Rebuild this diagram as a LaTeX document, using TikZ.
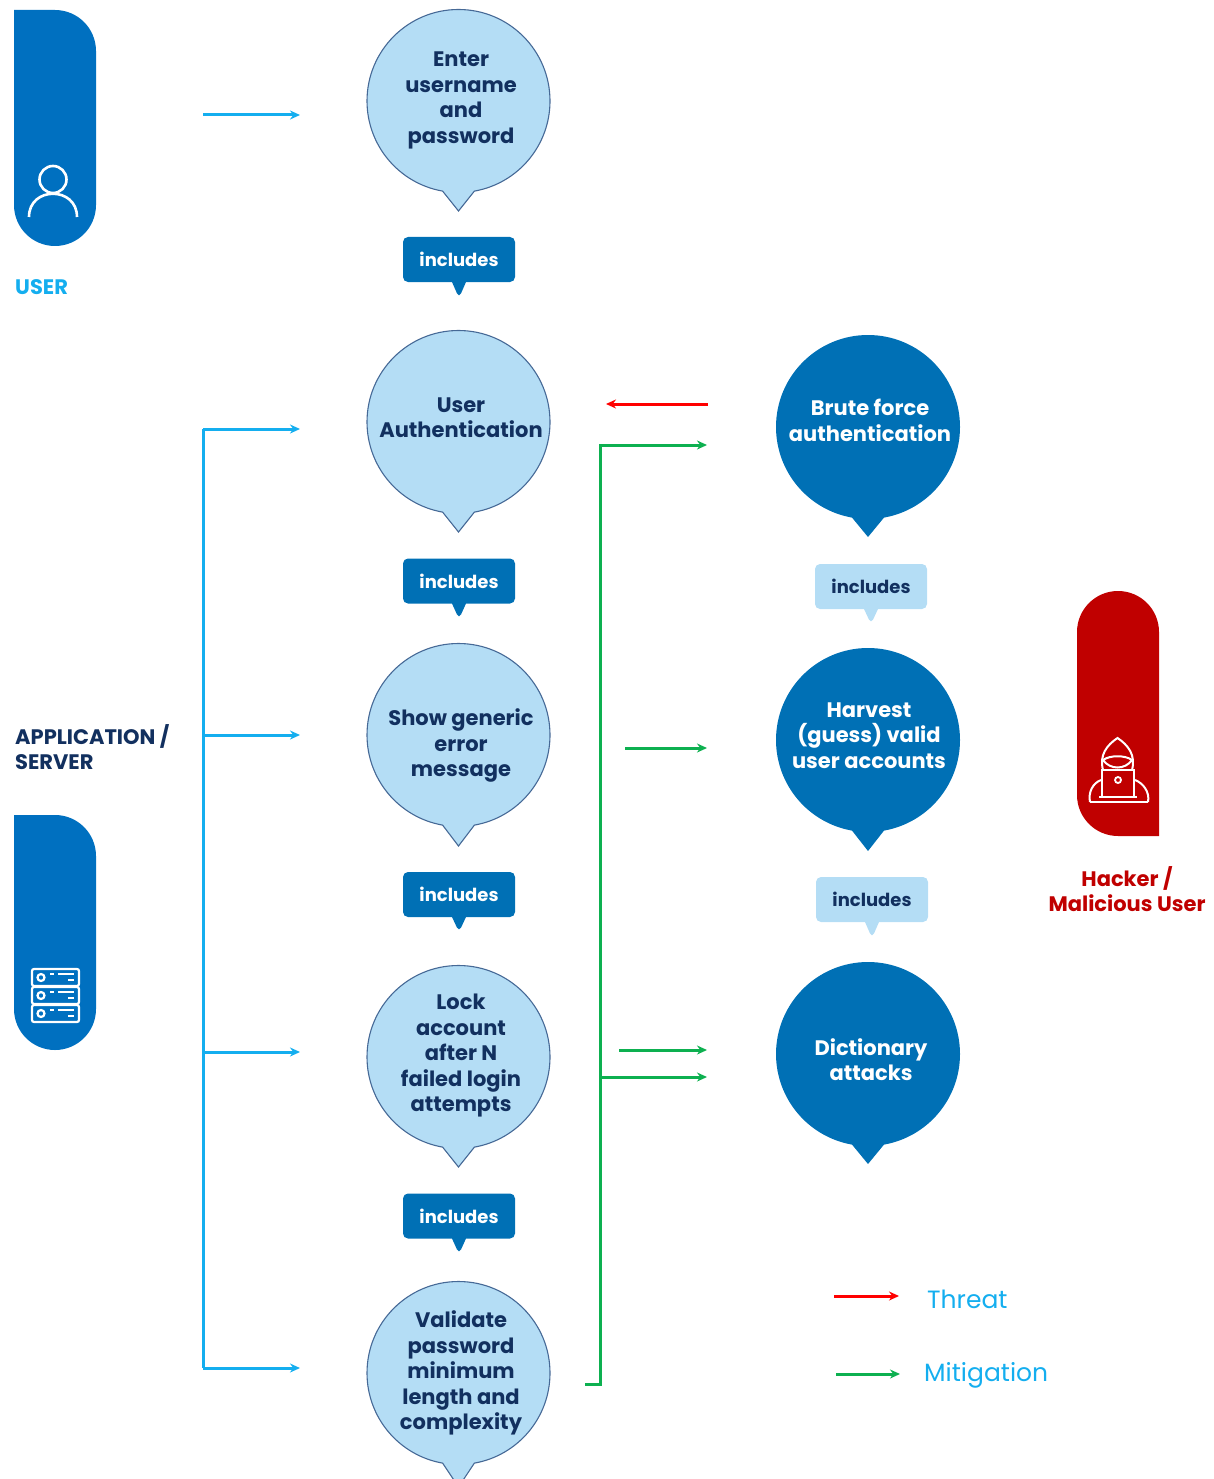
\documentclass[tikz,border=0pt]{standalone}
\usepackage{fontspec}
\setmainfont{Poppins Bold}
\newfontfamily\plainfont{Poppins}
\usetikzlibrary{arrows.meta,shapes.callouts}
\definecolor{navy}{RGB}{18,48,95}
\definecolor{paleblue}{RGB}{180,221,245}
\definecolor{edgeblue}{RGB}{70,105,150}
\definecolor{deepblue}{RGB}{0,112,181}
\definecolor{pillblue}{RGB}{0,112,192}
\definecolor{skyblue}{RGB}{20,174,239}
\definecolor{mitgreen}{RGB}{13,176,80}
\definecolor{threatred}{RGB}{255,0,0}
\definecolor{darkred}{RGB}{192,0,0}
\tikzset{
  usecase/.style={ellipse callout, minimum width=183pt, minimum height=183pt, inner sep=0pt,
    callout pointer arc=20},
  lightcase/.style={usecase, fill=paleblue, draw=edgeblue, line width=1.1pt},
  darkcase/.style={usecase, fill=deepblue, minimum width=184pt, minimum height=184pt},
  casetext/.style={align=center, inner sep=0pt, font=\fontsize{21}{25.5}\selectfont},
  tag/.style={rectangle callout, rounded corners=5pt, minimum width=112pt, minimum height=45pt,
    inner sep=0pt, callout pointer width=14pt, font=\fontsize{18}{22}\selectfont},
  arrowtip/.style={-{Stealth[length=10pt,width=9pt]}, line width=3pt},
  blueline/.style={skyblue, line width=3pt},
  bluearrow/.style={arrowtip, skyblue},
  greenarrow/.style={arrowtip, mitgreen},
  redarrow/.style={arrowtip, threatred},
  icon/.style={draw=white, line width=2.6pt}
}
\begin{document}
\begin{tikzpicture}[x=1pt,y=-1pt]
  \useasboundingbox (0,0) rectangle (1213,1479);
  % actors
  \fill[pillblue] (14,10) [rounded corners=41pt] -- (96,10) -- (96,246) -- (14,246) [sharp corners] -- cycle;
  \fill[pillblue] (14,815) [rounded corners=41pt] -- (96,815) -- (96,1050) -- (14,1050) [sharp corners] -- cycle;
  \fill[darkred] (1159,836) [rounded corners=41pt] -- (1159,591) -- (1077,591) -- (1077,836) [sharp corners] -- cycle;
  \node[text=skyblue, inner sep=0pt, font=\fontsize{21}{25}\selectfont, anchor=west] (userlabel) at (15,287) {USER};
  \node[text=navy, align=left, inner sep=0pt, font=\fontsize{21}{25.5}\selectfont, anchor=west] (serverlabel) at (15,747) {APPLICATION /\\SERVER};
  \node[text=darkred, align=center, inner sep=0pt, font=\fontsize{21}{25.5}\selectfont] (hackerlabel) at (1127,889) {Hacker /\\Malicious User};
  % actor icons
  \draw[icon] (53,179.5) circle[radius=13.5pt];
  \draw[icon] (29,217) .. controls (29,186) and (77,186) .. (77,217);
  \foreach \y in {969,987,1005}{
    \draw[icon, line width=2.2pt, rounded corners=2pt] (32,\y) rectangle (79,\y+17);
    \draw[icon, line width=2.2pt] (41,\y+8.5) circle[radius=3.5pt];
    \draw[icon, line width=2.2pt] (50,\y+5) -- (54,\y+5) (58,\y+5) -- (74,\y+5) (68,\y+11) -- (74,\y+11);
  };
  \draw[icon, line width=2pt] (1103,770) .. controls (1099,755) and (1107,745) .. (1117.5,738)
    .. controls (1128,745) and (1136,755) .. (1132,770);
  \draw[icon, line width=2pt] (1103,760) .. controls (1110,755) and (1125,755) .. (1132,760);
  \draw[icon, line width=2pt] (1103,760) .. controls (1110,770) and (1125,770) .. (1132,760);
  \draw[icon, line width=2pt] (1102,770) rectangle (1134,797);
  \draw[icon, line width=2pt, rounded corners=2pt] (1090,802) -- (1148,802);
  \draw[icon, line width=2pt] (1099,797) -- (1137,797);
  \draw[icon, line width=2pt] (1090,802) .. controls (1088,792) and (1093,783) .. (1101,780);
  \draw[icon, line width=2pt] (1148,802) .. controls (1150,792) and (1143,783) .. (1135,780);
  \draw[icon, line width=1.8pt] (1118,780) circle[radius=3pt];
  % application side
  \foreach \name/\cy/\tip/\ty/\body in {
    enter/101/211/100.5/{Enter\\username\\and\\password},
    auth/422/532/417.5/{User\\Authentication},
    error/735/846/745.5/{Show generic\\error\\message},
    lock/1057/1167/1056/{Lock\\account\\after N\\failed login\\attempts},
    valid/1373/1487/1373/{Validate\\password\\minimum\\length and\\complexity}}{
    \node[lightcase, callout absolute pointer={(458.5,\tip)}] (\name) at (458.5,\cy) {};
    \node[casetext, text=navy] (text\name) at (461,\ty) {\body};
  };
  % attacker side
  \foreach \name/\cy/\tip/\tx/\ty/\body in {
    brute/427/537/870/420.5/{Brute force\\authentication},
    harvest/740/851/869/735.5/{Harvest\\(guess) valid\\user accounts},
    dict/1054/1164/871/1059.5/{Dictionary\\attacks}}{
    \node[darkcase, callout absolute pointer={(868,\tip)}] (\name) at (868,\cy) {};
    \node[casetext, text=white] (text\name) at (\tx,\ty) {\body};
  };
  % includes tags
  \foreach \name/\cy/\tip in {tagone/259.5/298,tagtwo/581/619,tagthree/894.5/932,tagfour/1216/1254}
    \node[tag, fill=deepblue, text=white, callout absolute pointer={(459,\tip)}] (\name) at (459,\cy) {includes};
  \node[tag, fill=paleblue, text=navy, callout absolute pointer={(871,624)}] (tagfive) at (871,586.5) {includes};
  \node[tag, fill=paleblue, text=navy, callout absolute pointer={(872,938)}] (tagsix) at (872,899.5) {includes};
  % blue arrows
  \coordinate (fromuser) at (203,115);
  \coordinate (touser) at (300,115);
  \draw[bluearrow] (fromuser) -- (touser);
  \foreach \name/\y in {auth/429,error/735,lock/1052,valid/1368}{
    \coordinate (from\name) at (203,\y);
    \coordinate (to\name) at (300,\y);
    \draw[bluearrow] (from\name) -- (to\name);
  };
  \draw[blueline] (fromauth) -- (fromvalid);
  % threat and mitigation arrows
  \coordinate (frombrute) at (708,404);
  \coordinate (tobrute) at (606,404);
  \draw[redarrow] (frombrute) -- (tobrute);
  \coordinate (treefoot) at (585,1384);
  \coordinate (treecorner) at (600,1384);
  \coordinate (treetop) at (600,445);
  \coordinate (treeend) at (707,445);
  \coordinate (treejoint) at (600,1077);
  \coordinate (treebranch) at (707,1077);
  \draw[greenarrow] (treefoot) -- (treecorner) -- (treetop) -- (treeend);
  \draw[greenarrow] (treejoint) -- (treebranch);
  \coordinate (fromharvest) at (625,748);
  \coordinate (toharvest) at (707,748);
  \draw[greenarrow] (fromharvest) -- (toharvest);
  \coordinate (fromdict) at (619,1050);
  \coordinate (todict) at (707,1050);
  \draw[greenarrow] (fromdict) -- (todict);
  % legend
  \coordinate (fromthreat) at (834,1296);
  \coordinate (tothreat) at (899,1296);
  \draw[redarrow] (fromthreat) -- (tothreat);
  \coordinate (frommitigation) at (836,1374);
  \coordinate (tomitigation) at (900,1374);
  \draw[greenarrow] (frommitigation) -- (tomitigation);
  \node[text=skyblue, inner sep=0pt, font=\plainfont\fontsize{25}{28}\selectfont, anchor=west] (threat) at (927,1299) {Threat};
  \node[text=skyblue, inner sep=0pt, font=\plainfont\fontsize{25}{28}\selectfont, anchor=west] (mitigation) at (924,1375) {Mitigation};
\end{tikzpicture}
\end{document}
